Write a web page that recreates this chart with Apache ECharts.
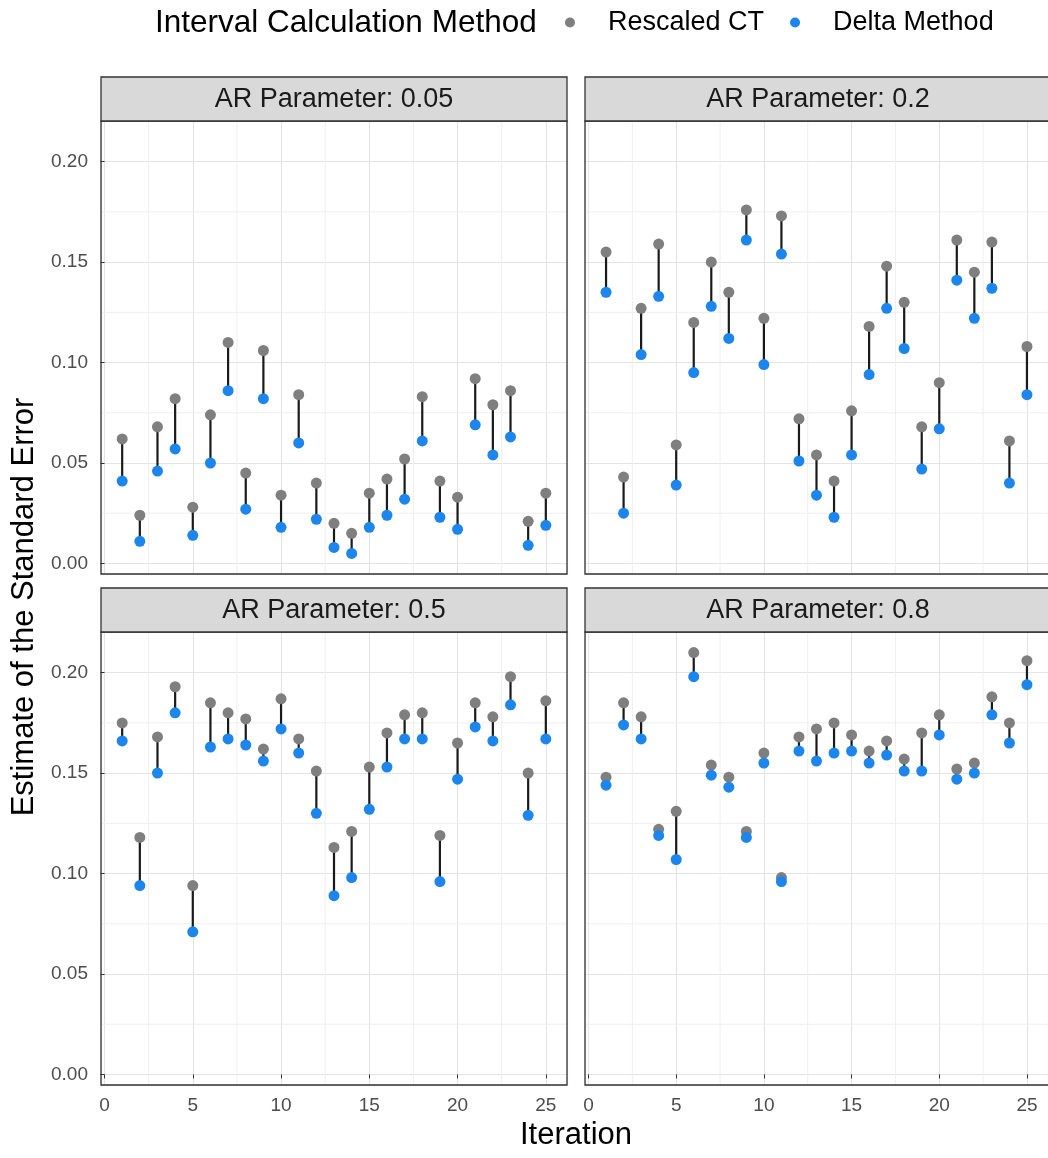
<!DOCTYPE html>
<html>
<head>
<meta charset="utf-8">
<script src="https://cdn.jsdelivr.net/npm/echarts@6/dist/echarts.min.js"></script>
<style>
  html, body { margin: 0; padding: 0; background: #ffffff; overflow: hidden; }
  #chart { width: 1048px; height: 1158px; }
</style>
</head>
<body>
<div id="chart"></div>
<script>
// Iteration index shared by all four facets
const iterations = [1,2,3,4,5,6,7,8,9,10,11,12,13,14,15,16,17,18,19,20,21,22,23,24,25];

// Facet labels
const panelTitles = ['AR Parameter: 0.05', 'AR Parameter: 0.2', 'AR Parameter: 0.5', 'AR Parameter: 0.8'];

// Legend entries
const methodNames = ['Rescaled CT', 'Delta Method'];

// Standard error estimates, AR = 0.05
const rescaledAR005 = [0.062,0.024,0.068,0.082,0.028,0.074,0.110,0.045,0.106,0.034,0.084,0.040,0.020,0.015,0.035,0.042,0.052,0.083,0.041,0.033,0.092,0.079,0.086,0.021,0.035];
const deltaAR005    = [0.041,0.011,0.046,0.057,0.014,0.050,0.086,0.027,0.082,0.018,0.060,0.022,0.008,0.005,0.018,0.024,0.032,0.061,0.023,0.017,0.069,0.054,0.063,0.009,0.019];

// Standard error estimates, AR = 0.2
const rescaledAR02 = [0.155,0.043,0.127,0.159,0.059,0.120,0.150,0.135,0.176,0.122,0.173,0.072,0.054,0.041,0.076,0.118,0.148,0.130,0.068,0.090,0.161,0.145,0.160,0.061,0.108];
const deltaAR02    = [0.135,0.025,0.104,0.133,0.039,0.095,0.128,0.112,0.161,0.099,0.154,0.051,0.034,0.023,0.054,0.094,0.127,0.107,0.047,0.067,0.141,0.122,0.137,0.040,0.084];

// Standard error estimates, AR = 0.5
const rescaledAR05 = [0.175,0.118,0.168,0.193,0.094,0.185,0.180,0.177,0.162,0.187,0.167,0.151,0.113,0.121,0.153,0.170,0.179,0.180,0.119,0.165,0.185,0.178,0.198,0.150,0.186];
const deltaAR05    = [0.166,0.094,0.150,0.180,0.071,0.163,0.167,0.164,0.156,0.172,0.160,0.130,0.089,0.098,0.132,0.153,0.167,0.167,0.096,0.147,0.173,0.166,0.184,0.129,0.167];

// Standard error estimates, AR = 0.8
const rescaledAR08 = [0.148,0.185,0.178,0.122,0.131,0.210,0.154,0.148,0.121,0.160,0.098,0.168,0.172,0.175,0.169,0.161,0.166,0.157,0.170,0.179,0.152,0.155,0.188,0.175,0.206];
const deltaAR08    = [0.144,0.174,0.167,0.119,0.107,0.198,0.149,0.143,0.118,0.155,0.096,0.161,0.156,0.160,0.161,0.155,0.159,0.151,0.151,0.169,0.147,0.150,0.179,0.165,0.194];

// Axis tick values
const xMajorTicks = [0, 5, 10, 15, 20, 25];
const xMinorTicks = [2.5, 7.5, 12.5, 17.5, 22.5];
const yMinorTicks = [0.025, 0.075, 0.125, 0.175];

const rescaledSets = [rescaledAR005, rescaledAR02, rescaledAR05, rescaledAR08];
const deltaSets = [deltaAR005, deltaAR02, deltaAR05, deltaAR08];

const FONT = "'Liberation Sans', Arial, Helvetica, sans-serif";
const GREY_PT = '#7F7F7F';
const BLUE_PT = '#1C86EE';
const BORDER = '#333333';
const MAJOR_GRID = '#E4E4E4';
const MINOR_GRID = '#EFEFEF';

// Shared scales with 5% padding on each side
function paddedRange(lo, hi) { const pad = (hi - lo) * 0.05; return [lo - pad, hi + pad]; }
const allValues = rescaledSets.concat(deltaSets).flat();
const yRange = paddedRange(Math.min(...allValues), Math.max(...allValues));
const xRange = paddedRange(Math.min(...iterations), Math.max(...iterations));

// Panel geometry (2 x 2 facets)
const panelLeft = [101, 585];
const panelTop = [121, 632];
const panelW = 466;
const panelH = 453;
const stripTop = [77, 588];

const grids = [], xAxes = [], yAxes = [], series = [], graphics = [];

for (let p = 0; p < 4; p++) {
  const col = p % 2, row = Math.floor(p / 2);
  const left = panelLeft[col], top = panelTop[row];
  grids.push({ left: left, top: top, width: panelW, height: panelH, show: false, containLabel: false });

  xAxes.push({
    gridIndex: p, type: 'value', min: xRange[0], max: xRange[1], splitNumber: 5,
    axisLine: { show: false },
    axisTick: { show: row === 1, length: 4, lineStyle: { color: BORDER, width: 1 } },
    axisLabel: { show: row === 1, showMinLabel: false, showMaxLabel: false, margin: 11,
      fontSize: 19, color: '#4D4D4D', fontFamily: FONT,
      formatter: v => (xMajorTicks.indexOf(Math.round(v * 1000) / 1000) >= 0 ? String(Math.round(v)) : '') },
    splitLine: { show: true, lineStyle: { color: MAJOR_GRID, width: 1.2 } }
  });

  yAxes.push({
    gridIndex: p, type: 'value', min: yRange[0], max: yRange[1], splitNumber: 5,
    axisLine: { show: false },
    axisTick: { show: col === 0, length: 4, lineStyle: { color: BORDER, width: 1 } },
    axisLabel: { show: col === 0, showMinLabel: false, showMaxLabel: false, margin: 13,
      fontSize: 19, color: '#4D4D4D', fontFamily: FONT, formatter: v => v.toFixed(2) },
    splitLine: { show: true, lineStyle: { color: MAJOR_GRID, width: 1.2 } }
  });

  // Minor grid lines: [orientation, value] (0 = vertical at x, 1 = horizontal at y)
  const minorData = xMinorTicks.map(v => [0, v]).concat(yMinorTicks.map(v => [1, v]));
  series.push({
    type: 'custom', xAxisIndex: p, yAxisIndex: p, silent: true, z: 1,
    data: minorData, encode: { x: -1, y: -1 },
    renderItem: function (params, api) {
      const cs = params.coordSys;
      const kind = api.value(0), v = api.value(1);
      if (kind === 0) {
        const x = api.coord([v, yRange[0]])[0];
        return { type: 'line', shape: { x1: x, y1: cs.y, x2: x, y2: cs.y + cs.height },
          style: { stroke: MINOR_GRID, lineWidth: 1 } };
      }
      const y = api.coord([xRange[0], v])[1];
      return { type: 'line', shape: { x1: cs.x, y1: y, x2: cs.x + cs.width, y2: y },
        style: { stroke: MINOR_GRID, lineWidth: 1 } };
    }
  });

  // Segments joining the two estimates of each iteration
  const segData = iterations.map((it, i) => [it, rescaledSets[p][i], deltaSets[p][i]]);
  series.push({
    type: 'custom', xAxisIndex: p, yAxisIndex: p, silent: true, z: 3,
    data: segData, encode: { x: 0, y: [1, 2] },
    renderItem: function (params, api) {
      const a = api.coord([api.value(0), api.value(1)]);
      const b = api.coord([api.value(0), api.value(2)]);
      return { type: 'line', shape: { x1: a[0], y1: a[1], x2: b[0], y2: b[1] },
        style: { stroke: '#1A1A1A', lineWidth: 2.2 } };
    }
  });

  series.push({
    name: methodNames[0], type: 'scatter', xAxisIndex: p, yAxisIndex: p, z: 4,
    symbol: 'circle', symbolSize: 11, itemStyle: { color: GREY_PT, opacity: 1 },
    data: iterations.map((it, i) => [it, rescaledSets[p][i]])
  });
  series.push({
    name: methodNames[1], type: 'scatter', xAxisIndex: p, yAxisIndex: p, z: 5,
    symbol: 'circle', symbolSize: 11, itemStyle: { color: BLUE_PT, opacity: 1 },
    data: iterations.map((it, i) => [it, deltaSets[p][i]])
  });

  // Panel border drawn above the grid lines
  graphics.push({
    type: 'rect', silent: true, z: 9,
    shape: { x: left, y: top, width: panelW, height: panelH },
    style: { fill: null, stroke: BORDER, lineWidth: 1.3 }
  });

  // Facet strip
  const sTop = stripTop[row];
  const sH = top - sTop;
  graphics.push({
    type: 'rect', silent: true, z: 10,
    shape: { x: left, y: sTop, width: panelW, height: sH },
    style: { fill: '#D9D9D9', stroke: BORDER, lineWidth: 1.3 }
  });
  graphics.push({
    type: 'text', x: left + panelW / 2, y: sTop + sH / 2 + 1, silent: true, z: 11,
    style: { text: panelTitles[p], fill: '#1A1A1A', font: '27px ' + FONT,
      textAlign: 'center', textVerticalAlign: 'middle', align: 'center', verticalAlign: 'middle' }
  });
}

// Axis titles
graphics.push({
  type: 'text', x: 576, y: 1135, silent: true,
  style: { text: 'Iteration', fill: '#000', font: '31px ' + FONT,
    textAlign: 'center', textVerticalAlign: 'middle', align: 'center', verticalAlign: 'middle' }
});
graphics.push({
  type: 'text', x: 24, y: 607, rotation: Math.PI / 2, silent: true,
  style: { text: 'Estimate of the Standard Error', fill: '#000', font: '31px ' + FONT,
    textAlign: 'center', textVerticalAlign: 'middle', align: 'center', verticalAlign: 'middle' }
});

const chart = echarts.init(document.getElementById('chart'), null, { renderer: 'canvas' });
chart.setOption({
  animation: false,
  backgroundColor: '#FFFFFF',
  textStyle: { fontFamily: FONT },
  title: {
    text: 'Interval Calculation Method', left: 150, top: 2,
    textStyle: { fontSize: 31.5, fontWeight: 'normal', color: '#000', fontFamily: FONT }
  },
  legend: {
    data: methodNames, left: 560, top: 4, orient: 'horizontal',
    icon: 'circle', itemWidth: 10, itemHeight: 10, itemGap: 26,
    textStyle: { fontSize: 27, color: '#000', fontFamily: FONT, padding: [0, 0, 0, 28] },
    selectedMode: false
  },
  grid: grids,
  xAxis: xAxes,
  yAxis: yAxes,
  series: series,
  graphic: { elements: graphics }
});
</script>
</body>
</html>
